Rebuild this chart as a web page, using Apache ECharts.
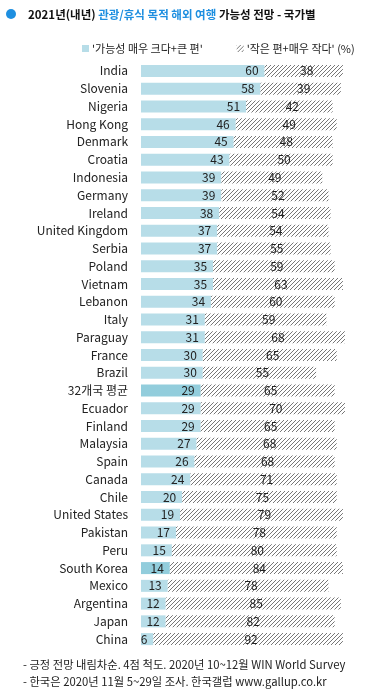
<!DOCTYPE html>
<html><head><meta charset="utf-8">
<script src="https://cdn.jsdelivr.net/npm/echarts@6/dist/echarts.min.js"></script>
<style>html,body{margin:0;padding:0;background:#fff}#c{width:367px;height:695px}</style>
</head><body><div id="c"></div>
<script>
const categories = ['India','Slovenia','Nigeria','Hong Kong','Denmark','Croatia','Indonesia','Germany','Ireland','United Kingdom','Serbia','Poland','Vietnam','Lebanon','Italy','Paraguay','France','Brazil','32개국 평균','Ecuador','Finland','Malaysia','Spain','Canada','Chile','United States','Pakistan','Peru','South Korea','Mexico','Argentina','Japan','China'];
const likely = [60,58,51,46,45,43,39,39,38,37,37,35,35,34,31,31,30,30,29,29,29,27,26,24,20,19,17,15,14,13,12,12,6];
const unlikely = [38,39,42,49,48,50,49,52,54,54,55,59,63,60,59,68,65,55,65,70,65,68,68,71,75,79,78,80,84,78,85,82,92];
const highlighted = ['32개국 평균','South Korea'];
const seriesNames = ["'가능성 매우 크다+큰 편'", "'작은 편+매우 작다' (%)"];

const FONT = '"Noto Sans CJK KR", "Noto Sans", sans-serif';
const cv = document.createElement('canvas');
cv.width = 4; cv.height = 4;
const cx = cv.getContext('2d');
cx.fillStyle = '#fff'; cx.fillRect(0,0,4,4);
cx.fillStyle = '#777';
for (let i = 0; i < 4; i++) cx.fillRect(i, 3 - i, 1, 1);
const hatch = { image: cv, repeat: 'repeat' };

const chart = echarts.init(document.getElementById('c'), null, {renderer: 'canvas'});
chart.setOption({
  animation: false,
  textStyle: { fontFamily: FONT },
  title: {
    left: 23, top: 4,
    text: '{a|2021년(내년) }{b|관광/휴식 목적 해외 여행}{a| 가능성 전망 - 국가별}',
    textStyle: { rich: {
      a: { fontFamily: FONT, fontSize: 11.5, fontWeight: 'bold', color: '#111' },
      b: { fontFamily: FONT, fontSize: 11.5, fontWeight: 'bold', color: '#1e8fe0' }
    } }
  },
  legend: {
    top: 38, left: 77,
    itemWidth: 7, itemHeight: 7, itemGap: 34,
    icon: 'rect',
    textStyle: { fontFamily: FONT, fontSize: 11, color: '#222', padding: [0,0,0,-2] },
    data: seriesNames
  },
  graphic: [
    { type: 'circle', shape: { cx: 11, cy: 14, r: 5 }, style: { fill: '#1e8fe0' } },
    { type: 'text', left: 23, top: 659, style: { text: '- 긍정 전망 내림차순. 4점 척도. 2020년 10~12월 WIN World Survey', font: '11.3px ' + FONT, fill: '#222' } },
    { type: 'text', left: 23, top: 676, style: { text: '- 한국은 2020년 11월 5~29일 조사. 한국갤럽 www.gallup.co.kr', font: '11.3px ' + FONT, fill: '#222' } }
  ],
  grid: { left: 141, right: 20, top: 62, height: 586, containLabel: false },
  xAxis: { type: 'value', min: 0, max: 100, show: false },
  yAxis: {
    type: 'category', data: categories, inverse: true,
    axisLine: { show: false }, axisTick: { show: false },
    axisLabel: { color: '#222', fontSize: 12, margin: 13, fontFamily: FONT }
  },
  series: [
    {
      name: seriesNames[0], type: 'bar', stack: 's', barWidth: 12,
      itemStyle: { color: '#b7dde8' },
      data: likely.map((v, i) => highlighted.includes(categories[i]) ? { value: v, itemStyle: { color: '#92cddc' } } : v),
      label: { show: true, position: 'insideRight', distance: 6, color: '#222', fontSize: 12, fontFamily: FONT }
    },
    {
      name: seriesNames[1], type: 'bar', stack: 's', barWidth: 12,
      itemStyle: { color: hatch },
      data: unlikely,
      label: { show: true, position: 'inside', offset: [3, 0], color: '#222', fontSize: 12, fontFamily: FONT }
    }
  ]
});
</script></body></html>
